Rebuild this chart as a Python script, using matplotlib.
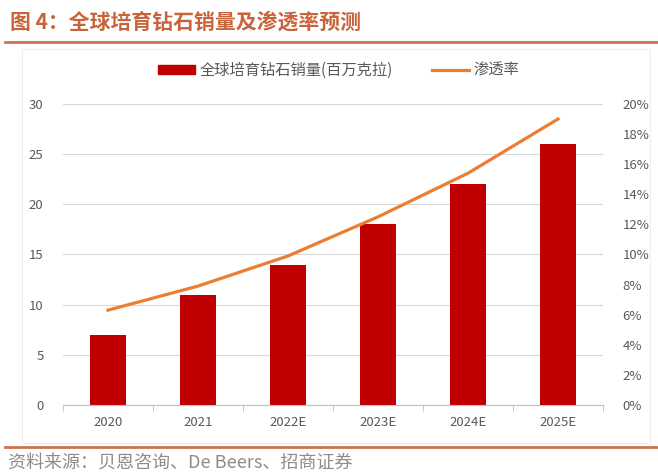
import matplotlib.pyplot as plt
import numpy as np
from matplotlib.lines import Line2D
from matplotlib.patches import Rectangle

plt.rcParams['font.family'] = ['Noto Sans CJK SC', 'DejaVu Sans']

years = ['2020', '2021', '2022E', '2023E', '2024E', '2025E']
sales = [7, 11, 14, 18, 22, 26]          # 百万克拉
penetration = [6.3, 7.9, 9.9, 12.5, 15.4, 19.0]  # %

grey = '#595959'
fig = plt.figure(figsize=(6.58, 4.74), dpi=100)

# title and rules
fig.text(0.015, 0.953, '图 4：全球培育钻石销量及渗透率预测', fontsize=15, color='#C8643C',
         fontweight='bold', va='center', ha='left')
fig.add_artist(Line2D([0.008, 1.0], [0.911, 0.911], color='#D07050', lw=2))
fig.add_artist(Line2D([0.008, 1.0], [0.057, 0.057], color='#D07050', lw=2))
fig.add_artist(Rectangle((0.033, 0.066), 0.955, 0.83, fill=False, ec='#EEEEEE', lw=0.8))
fig.text(0.012, 0.024, '资料来源：贝恩咨询、De Beers、招商证券', fontsize=13, color='#8C8C8C',
         va='center', ha='left')

ax = fig.add_axes([0.0957, 0.1456, 0.8207, 0.635])
x = np.arange(len(years))
ax.bar(x, sales, width=0.41, color='#C00000', zorder=2)
ax.set_xlim(-0.5, len(years) - 0.5)
ax.set_ylim(0, 30)
ax.set_yticks(range(0, 31, 5))
ax.grid(axis='y', color='#D9D9D9', lw=0.8, zorder=0)
ax.set_xticks(x)
ax.set_xticklabels(years)
ax.set_xticks(np.arange(-0.5, len(years), 1), minor=True)
ax.tick_params(axis='x', which='major', length=0, pad=8, colors=grey, labelsize=9.5)
ax.tick_params(axis='x', which='minor', length=4, color='#BFBFBF')
ax.tick_params(axis='y', length=0, pad=14, colors=grey, labelsize=9.5)
for s in ['top', 'right', 'left']:
    ax.spines[s].set_visible(False)
ax.spines['bottom'].set_color('#BFBFBF')

ax2 = ax.twinx()
ax2.plot(x, penetration, color='#ED7D31', lw=2.3, zorder=3)
ax2.set_ylim(0, 20)
ax2.set_yticks(range(0, 21, 2))
ax2.set_yticklabels([f'{v}%' for v in range(0, 21, 2)])
ax2.tick_params(axis='y', length=0, pad=14, colors=grey, labelsize=9.5)
for s in ['top', 'right', 'left', 'bottom']:
    ax2.spines[s].set_visible(False)

handles = [Rectangle((0, 0), 1, 1, color='#C00000'),
           Line2D([0], [0], color='#ED7D31', lw=2.3)]
fig.legend(handles, ['全球培育钻石销量(百万克拉)', '渗透率'], loc='center',
           bbox_to_anchor=(0.515, 0.852), ncol=2, frameon=False, fontsize=11,
           labelcolor=grey, handlelength=2.4, handleheight=0.55, columnspacing=2.6, handletextpad=0.3)

fig.savefig('out.png', dpi=100)
